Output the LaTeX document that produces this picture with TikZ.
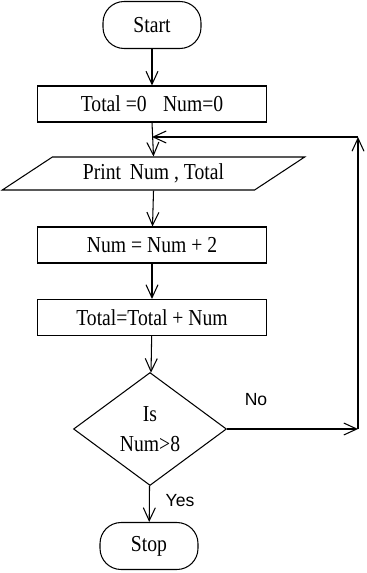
\documentclass[tikz,border=0pt]{standalone}
\usepackage{fontspec}
\setmainfont{Liberation Serif}[FakeStretch=0.86]
\setsansfont{Liberation Sans}
\usetikzlibrary{arrows.meta,shapes.geometric}

\begin{document}
\begin{tikzpicture}[x=0.02cm,y=-0.02cm,
    line width=0.6pt,
    every node/.style={font=\fontsize{13}{15}\selectfont},
    term/.style={draw,rectangle,rounded corners=12pt,minimum width=1.96cm,minimum height=0.94cm},
    proc/.style={draw,rectangle,minimum width=4.58cm,minimum height=0.72cm},
    io/.style={draw,trapezium,trapezium left angle=29,trapezium right angle=151,trapezium stretches=true,minimum width=6.06cm,minimum height=0.66cm,inner sep=0pt},
    decide/.style={draw,diamond,aspect=1.35,minimum width=3.06cm,minimum height=2.26cm,inner sep=0pt,align=center,font=\fontsize{13}{17}\selectfont},
    lbl/.style={font=\sffamily\fontsize{10}{12}\selectfont},
    arr/.style={-{Straight Barb[length=0.26cm,width=0.24cm]}}]
    \useasboundingbox (0,0) rectangle (367,573);
    % boxes
    \node[term] (start) at (152,25) {Start};
    \node[proc] (init) at (152,104) {Total =0\enspace\ Num=0};
    \node[io] (print) at (153.5,173.5) {Print\, Num , Total};
    \node[proc] (step) at (152,245) {Num = Num + 2};
    \node[proc] (sum) at (152,317.5) {Total=Total + Num};
    \node[decide] (test) at (150,429) {Is\\Num>8};
    \node[term] (stop) at (149,546) {Stop};
    % loop corners
    \coordinate (rb) at (358,429);
    \coordinate (rt) at (358,137);
    \coordinate (join) at (152,137);
    % arrows
    \draw[arr] (start) -- (init);
    \draw[arr] (init.south) -- (print.north);
    \draw[arr] (print.south) -- (step);
    \draw[arr] (step) -- (sum);
    \draw[arr] (sum) -- (test);
    \draw[arr] (test) -- (stop);
    \draw[arr] (test.east) -- (rb);
    \draw[arr] (rb) -- (rt);
    \draw[arr] (rt) -- (join);
    % labels
    \node[lbl] (no) at (256,400) {No};
    \node[lbl] (yes) at (180,501) {Yes};
\end{tikzpicture}
\end{document}
